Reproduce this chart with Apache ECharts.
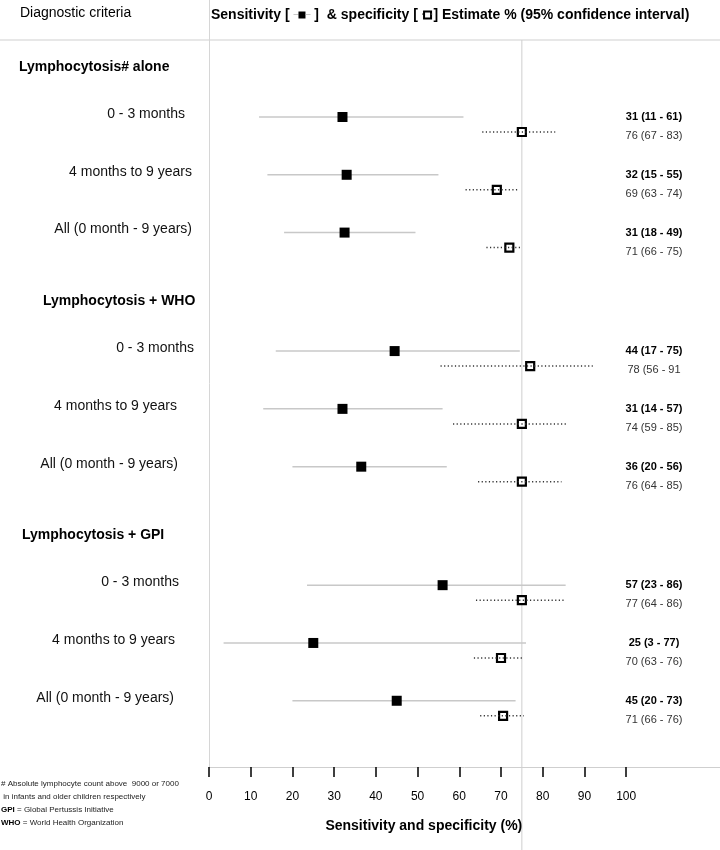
<!DOCTYPE html>
<html>
<head>
<meta charset="utf-8">
<script src="https://cdn.jsdelivr.net/npm/echarts@6/dist/echarts.min.js"></script>
<style>html,body{margin:0;padding:0;background:#fff}#c{width:720px;height:850px}</style>
</head>
<body>
<div id="c"></div>
<script>
// ---------- data ----------
const groupNames = ['Lymphocytosis# alone', 'Lymphocytosis + WHO', 'Lymphocytosis + GPI'];
const rowLabels = ['0 - 3 months', '4 months to 9 years', 'All (0 month - 9 years)'];
const sensEst = [32, 33, 32.5, 44.5, 32, 36.5, 56, 25, 45];
const sensLo  = [12, 14, 18, 16, 13, 20, 23.5, 3.5, 20];
const sensHi  = [61, 55, 49.5, 74.5, 56, 57, 85.5, 76, 73.5];
const specEst = [75, 69, 72, 77, 75, 75, 75, 70, 70.5];
const specLo  = [65.5, 61.5, 66.5, 55.5, 58.5, 64.5, 64, 63.5, 65];
const specHi  = [83, 74, 75, 92, 86, 84.5, 85.5, 75.5, 75.5];
const sensText = ['31 (11 - 61)', '32 (15 - 55)', '31 (18 - 49)', '44 (17 - 75)', '31 (14 - 57)', '36 (20 - 56)', '57 (23 - 86)', '25 (3 - 77)', '45 (20 - 73)'];
const specText = ['76 (67 - 83)', '69 (63 - 74)', '71 (66 - 75)', '78 (56 - 91', '74 (59 - 85)', '76 (64 - 85)', '77 (64 - 86)', '70 (63 - 76)', '71 (66 - 76)'];
const xTicks = [0, 10, 20, 30, 40, 50, 60, 70, 80, 90, 100];
const refValue = 75;

// ---------- layout ----------
const FONT = 'Liberation Sans, Arial, sans-serif';
const X_MAX = 122.5;
const GROUP_STEP = 4.05, SPEC_OFF = 0.26;
const Y_MIN = -2.024, Y_MAX = 11.246;
const groupHeaderLeft = [19, 43, 22];
const rowLabelRight = [185, 192, 192, 194, 177, 178, 179, 175, 174];

const rowPos = [];
for (let g = 0; g < 3; g++) for (let r = 0; r < 3; r++) rowPos.push(g * GROUP_STEP + r);
const specPos = rowPos.map(p => p + SPEC_OFF);

function ciRender(color, dash) {
  return function (params, api) {
    const a = api.coord([api.value(0), api.value(2)]);
    const b = api.coord([api.value(1), api.value(2)]);
    return {
      type: 'line',
      shape: { x1: a[0], y1: a[1], x2: b[0], y2: b[1] },
      style: { stroke: color, lineWidth: 1.5, lineDash: dash }
    };
  };
}

const chart = echarts.init(document.getElementById('c'));
chart.setOption({
  animation: false,
  grid: { left: 209, right: 0, top: 0, bottom: 83, containLabel: false },
  xAxis: {
    type: 'value', min: 0, max: X_MAX,
    axisLine: { show: true, onZero: false, lineStyle: { color: '#cfcfcf', width: 1 } },
    axisTick: { show: true, customValues: xTicks, length: 10, lineStyle: { color: '#000', width: 1.5 } },
    axisLabel: { show: true, customValues: xTicks, margin: 24, fontSize: 12, color: '#000', fontFamily: FONT },
    splitLine: { show: false }
  },
  yAxis: {
    type: 'value', inverse: true, min: Y_MIN, max: Y_MAX,
    axisLine: { show: true, onZero: false, lineStyle: { color: '#d6d6d6', width: 1 } },
    axisTick: { show: false }, axisLabel: { show: false }, splitLine: { show: false }
  },
  series: [
    {
      type: 'custom', name: 'sensCI', z: 1, silent: true, clip: false,
      renderItem: ciRender('#c8c8c8', null),
      encode: { x: [0, 1], y: 2 },
      data: sensLo.map((lo, i) => [lo, sensHi[i], rowPos[i]])
    },
    {
      type: 'scatter', name: 'Sensitivity', z: 3, silent: true,
      symbol: 'rect', symbolSize: 10,
      itemStyle: { color: '#000', opacity: 1 },
      data: sensEst.map((v, i) => [v, rowPos[i]])
    },
    {
      type: 'scatter', name: 'Specificity', z: 3, silent: true,
      symbol: 'rect', symbolSize: 8,
      itemStyle: { color: '#fff', borderColor: '#000', borderWidth: 2.2, opacity: 1 },
      data: specEst.map((v, i) => [v, specPos[i]])
    },
    {
      type: 'custom', name: 'specCI', z: 4, silent: true, clip: false,
      renderItem: ciRender('#333', [1.2, 2.4]),
      encode: { x: [0, 1], y: 2 },
      data: specLo.map((lo, i) => [lo, specHi[i], specPos[i]])
    }
  ]
});

// ---------- texts & guide lines ----------
function px(x, y) { return chart.convertToPixel({ gridIndex: 0 }, [x, y]); }
const g = [];
const HEADER_LINE_Y = 40;
g.push({ type: 'line', shape: { x1: 0, y1: HEADER_LINE_Y, x2: 720, y2: HEADER_LINE_Y }, style: { stroke: '#cfcfcf', lineWidth: 1 }, z: 0 });
const refX = px(refValue, 0)[0];
g.push({ type: 'line', shape: { x1: refX, y1: HEADER_LINE_Y, x2: refX, y2: 850 }, style: { stroke: '#cfcfcf', lineWidth: 1 }, z: 0 });

g.push({ type: 'text', left: 20, top: 6, style: { text: 'Diagnostic criteria', font: '14px ' + FONT, fill: '#000' } });
g.push({
  type: 'text', x: 211, y: 15, style: {
    text: 'Sensitivity [ {ln|–}{fs|}{ln|–} ]  & specificity [ {dt|·}{os|}{dt|·}] Estimate % (95% confidence interval)',
    font: 'bold 14px ' + FONT, fill: '#000', verticalAlign: 'middle',
    rich: {
      ln: { fill: '#aaa', font: '9px ' + FONT },
      fs: { width: 7, height: 7, backgroundColor: '#000' },
      dt: { fill: '#333', font: 'bold 10px ' + FONT },
      os: { width: 5, height: 5, backgroundColor: '#fff', borderColor: '#000', borderWidth: 2 }
    }
  }
});

for (let gi = 0; gi < 3; gi++) {
  const hy = px(0, gi * GROUP_STEP)[1] - 50;
  g.push({ type: 'text', x: groupHeaderLeft[gi], y: hy, style: { text: groupNames[gi], font: 'bold 14px ' + FONT, fill: '#000', verticalAlign: 'middle' } });
}
for (let i = 0; i < rowPos.length; i++) {
  const y = px(0, rowPos[i])[1];
  g.push({ type: 'text', x: rowLabelRight[i], y: y - 3, style: { text: rowLabels[i % 3], font: '14px ' + FONT, fill: '#111', align: 'right', verticalAlign: 'middle' } });
  g.push({ type: 'text', x: 654, y: y, style: { text: sensText[i], font: 'bold 11px ' + FONT, fill: '#000', align: 'center', verticalAlign: 'middle' } });
  g.push({ type: 'text', x: 654, y: y + 19, style: { text: specText[i], font: '11px ' + FONT, fill: '#333', align: 'center', verticalAlign: 'middle' } });
}

const nameX = px(51.5, 0)[0];
g.push({ type: 'text', x: nameX, y: 826, style: { text: 'Sensitivity and specificity (%)', font: 'bold 14px ' + FONT, fill: '#000', align: 'center', verticalAlign: 'middle' } });

const foot = [
  '# Absolute lymphocyte count above  9000 or 7000',
  ' in infants and older children respectively',
  '{b|GPI} = Global Pertussis Initiative',
  '{b|WHO} = World Health Organization'
];
foot.forEach((t, k) => {
  g.push({ type: 'text', x: 1, y: 784 + k * 12.8, style: { text: t, font: '8px ' + FONT, fill: '#222', verticalAlign: 'middle', rich: { b: { font: 'bold 8px ' + FONT, fill: '#000' } } } });
});

chart.setOption({ graphic: g });
</script>
</body>
</html>
